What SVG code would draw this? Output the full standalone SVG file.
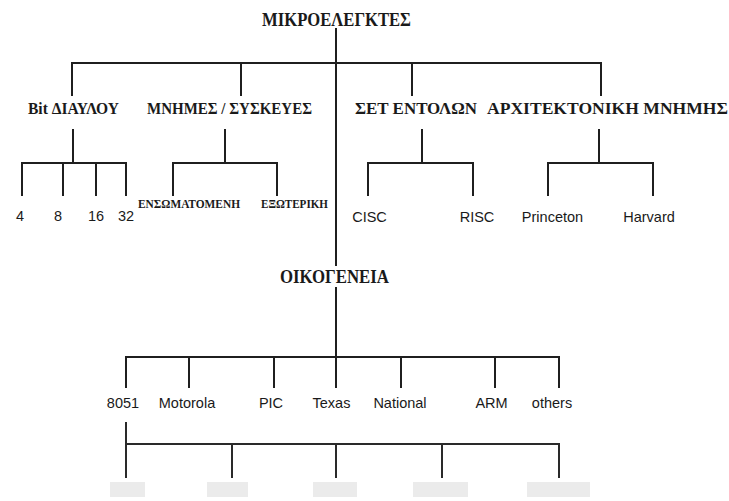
<svg xmlns="http://www.w3.org/2000/svg" width="729" height="501" viewBox="0 0 729 501">
<style>
.hd{font-family:"Liberation Serif","Times New Roman",serif;font-weight:bold;fill:#1a1a1a;text-anchor:middle}
.sm{font-family:"Liberation Serif","Times New Roman",serif;font-weight:bold;fill:#1a1a1a;font-size:11.5px;text-anchor:middle}
.lb{font-family:"Liberation Sans",Arial,sans-serif;fill:#1a1a1a;font-size:14.5px;text-anchor:middle}
.ln{stroke:#1f1f1f;stroke-width:2;fill:none;stroke-linecap:square}
.fd{fill:#ebebeb}
</style>
<rect width="729" height="501" fill="#fff"/>
<g id="connectors" class="ln">
<path d="M336 29V265M336 288V387"/>
<path d="M72 63H601M72 63V95M241 63V95M412 63V95M601 63V95"/>
<path d="M73 130V163M22 163H126M22 163V195M63 163V195M96 163V195M126 163V195"/>
<path d="M225 130V163M173 163H277M173 163V195M277 163V195"/>
<path d="M422 130V163M368 163H473M368 163V195M473 163V195"/>
<path d="M599 130V163M548 163H653M548 163V195M653 163V195"/>
<path d="M126 357H559M126 357V387M189 357V387M274 357V387M401 357V387M495 357V387M559 357V387"/>
<path d="M126 423V477M126 444H559M232 444V477M336 444V477M442 444V477M559 444V477" stroke="#2a2a2a"/>
</g>
<g id="n-root"><text class="hd" x="336.5" y="26" font-size="19" textLength="149" lengthAdjust="spacingAndGlyphs">ΜΙΚΡΟΕΛΕΓΚΤΕΣ</text></g>
<g id="n-bit"><text class="hd" x="73.5" y="114" font-size="16" textLength="91" lengthAdjust="spacingAndGlyphs">Bit ΔΙΑΥΛΟΥ</text></g>
<g id="n-mem"><text class="hd" x="229.5" y="114" font-size="16" textLength="165" lengthAdjust="spacingAndGlyphs">ΜΝΗΜΕΣ / ΣΥΣΚΕΥΕΣ</text></g>
<g id="n-set"><text class="hd" x="416" y="114" font-size="16" textLength="122" lengthAdjust="spacingAndGlyphs">ΣΕΤ ΕΝΤΟΛΩΝ</text></g>
<g id="n-arch"><text class="hd" x="607.5" y="114" font-size="16" textLength="241" lengthAdjust="spacingAndGlyphs">ΑΡΧΙΤΕΚΤΟΝΙΚΗ ΜΝΗΜΗΣ</text></g>
<g id="n-4"><text class="lb" x="20" y="221">4</text></g>
<g id="n-8"><text class="lb" x="58" y="221">8</text></g>
<g id="n-16"><text class="lb" x="96" y="221">16</text></g>
<g id="n-32"><text class="lb" x="126" y="221">32</text></g>
<g id="n-ens"><text class="sm" x="189" y="208" textLength="102" lengthAdjust="spacingAndGlyphs">ΕΝΣΩΜΑΤΟΜΕΝΗ</text></g>
<g id="n-ext"><text class="sm" x="294.5" y="208" textLength="67" lengthAdjust="spacingAndGlyphs">ΕΞΩΤΕΡΙΚΗ</text></g>
<g id="n-cisc"><text class="lb" x="369.5" y="222">CISC</text></g>
<g id="n-risc"><text class="lb" x="477" y="222">RISC</text></g>
<g id="n-princeton"><text class="lb" x="552.5" y="222">Princeton</text></g>
<g id="n-harvard"><text class="lb" x="649" y="222">Harvard</text></g>
<g id="n-family"><text class="hd" x="334.5" y="283" font-size="18" textLength="109" lengthAdjust="spacingAndGlyphs">ΟΙΚΟΓΕΝΕΙΑ</text></g>
<g id="n-8051"><text class="lb" x="123" y="408">8051</text></g>
<g id="n-motorola"><text class="lb" x="187" y="408">Motorola</text></g>
<g id="n-pic"><text class="lb" x="271" y="408">PIC</text></g>
<g id="n-texas"><text class="lb" x="331.5" y="408">Texas</text></g>
<g id="n-national"><text class="lb" x="400" y="408">National</text></g>
<g id="n-arm"><text class="lb" x="491.5" y="408">ARM</text></g>
<g id="n-others"><text class="lb" x="552" y="408">others</text></g>
<g id="n-faded" class="fd">
<rect x="110" y="482" width="35" height="15"/>
<rect x="207" y="482" width="41" height="15"/>
<rect x="313" y="482" width="44" height="15"/>
<rect x="413" y="482" width="55" height="15"/>
<rect x="527" y="482" width="63" height="15"/>
</g>
</svg>
